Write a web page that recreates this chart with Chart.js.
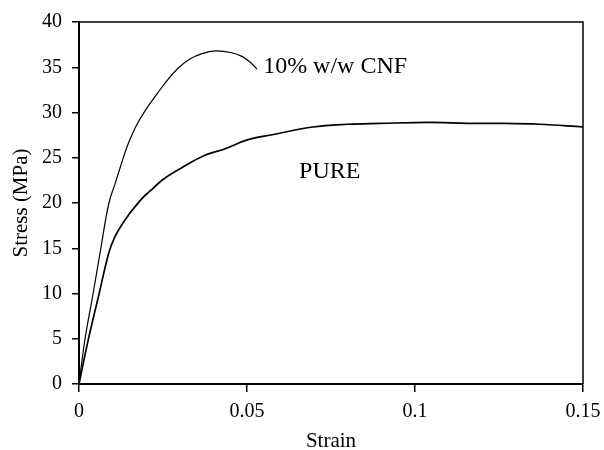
<!DOCTYPE html>
<html>
<head>
<meta charset="utf-8">
<script src="https://cdn.jsdelivr.net/npm/chart.js@4.4.0/dist/chart.umd.min.js"></script>
<style>
  html, body { margin: 0; padding: 0; background: #fff; }
  #wrap { width: 604px; height: 450px; }
</style>
</head>
<body>
<div id="wrap"><canvas id="stressChart" width="604" height="450"></canvas></div>
<script>
// Axis ticks
const xTicks = [0, 0.05, 0.1, 0.15];
const yTicks = [0, 5, 10, 15, 20, 25, 30, 35, 40];

// 10% w/w CNF composite
const cnfStrain = [0, 0.0018, 0.0042, 0.0065, 0.0089, 0.0108, 0.0125, 0.0145, 0.017, 0.0197,
                   0.0235, 0.0268, 0.0298, 0.033, 0.0366, 0.0405, 0.0455, 0.0485, 0.0508, 0.053];
const cnfStress = [0, 5, 10, 15, 20, 22.2, 24.2, 26.4, 28.5, 30.2,
                   32.2, 33.8, 35.0, 35.9, 36.5, 36.8, 36.6, 36.2, 35.6, 34.8];

// Pure polymer
const pureStrain = [0, 0.0027, 0.006, 0.0088, 0.0106, 0.0131, 0.015, 0.0167, 0.019, 0.0211, 0.025,
                    0.0306, 0.037, 0.0435, 0.0503, 0.0583, 0.0696, 0.0798, 0.0896, 0.1045,
                    0.1155, 0.125, 0.137, 0.15];
const pureStress = [0, 4.8, 10, 14.4, 16.2, 17.8, 18.8, 19.6, 20.6, 21.3, 22.6,
                    23.9, 25.2, 26.0, 27.0, 27.6, 28.4, 28.7, 28.8, 28.9,
                    28.8, 28.8, 28.7, 28.4];

// Curve labels, placed in data units
const curveLabels = ['10% w/w CNF', 'PURE'];
const labelStrain = [0.0548, 0.0655];
const labelStress = [34.4, 22.8];

const serif = '"Liberation Serif", "Times New Roman", serif';

function toPoints(xs, ys) {
    return xs.map((x, i) => ({ x: x, y: ys[i] }));
}

// closes the box on the top and right sides
const framePlugin = {
    id: 'frame',
    afterDatasetsDraw(chart) {
        const { ctx, chartArea: a } = chart;
        ctx.save();
        ctx.strokeStyle = '#000';
        ctx.lineWidth = 1.5;
        ctx.beginPath();
        ctx.moveTo(a.left, a.top);
        ctx.lineTo(a.right, a.top);
        ctx.lineTo(a.right, a.bottom);
        ctx.stroke();
        ctx.restore();
    }
};

const curveLabelPlugin = {
    id: 'curveLabels',
    afterDatasetsDraw(chart) {
        const { ctx, scales } = chart;
        ctx.save();
        ctx.font = '24px ' + serif;
        ctx.fillStyle = '#000';
        ctx.textAlign = 'left';
        ctx.textBaseline = 'alphabetic';
        curveLabels.forEach((txt, i) => {
            ctx.fillText(txt, scales.x.getPixelForValue(labelStrain[i]), scales.y.getPixelForValue(labelStress[i]));
        });
        ctx.restore();
    }
};

const chartConfig = {
    type: 'scatter',
    data: {
        datasets: [{
            label: curveLabels[0],
            data: toPoints(cnfStrain, cnfStress),
            showLine: true,
            borderColor: '#000',
            borderWidth: 1.2,
            pointRadius: 0,
            tension: 0.4
        }, {
            label: curveLabels[1],
            data: toPoints(pureStrain, pureStress),
            showLine: true,
            borderColor: '#000',
            borderWidth: 1.7,
            pointRadius: 0,
            tension: 0.4
        }]
    },
    options: {
        responsive: false,
        animation: false,
        devicePixelRatio: 1,
        layout: { padding: { left: 0, top: 20, right: 21, bottom: 0 } },
        plugins: {
            legend: { display: false },
            tooltip: { enabled: false }
        },
        scales: {
            x: {
                type: 'linear',
                min: 0,
                max: 0.15,
                afterBuildTicks: scale => { scale.ticks = xTicks.map(v => ({ value: v })); },
                afterFit: scale => {
                    scale.height = 66;
                    scale.paddingLeft = 0;
                    scale.paddingRight = 0;
                },
                border: { color: '#000', width: 2 },
                grid: { drawOnChartArea: false, drawTicks: true, tickLength: 8, color: '#000', lineWidth: 1.5 },
                ticks: {
                    color: '#000',
                    padding: 8,
                    maxRotation: 0,
                    font: { family: serif, size: 20 },
                    callback: v => String(v)
                },
                title: {
                    display: true,
                    text: 'Strain',
                    color: '#000',
                    padding: { top: 0, bottom: -2 },
                    font: { family: serif, size: 21, lineHeight: 1 }
                }
            },
            y: {
                min: 0,
                max: 40,
                afterBuildTicks: scale => { scale.ticks = yTicks.map(v => ({ value: v })); },
                afterFit: scale => { scale.width = 79; },
                border: { color: '#000', width: 2 },
                grid: { drawOnChartArea: false, drawTicks: true, tickLength: 7, color: '#000', lineWidth: 1.5 },
                ticks: {
                    color: '#000',
                    padding: 10,
                    font: { family: serif, size: 20 },
                    callback: v => String(v)
                },
                title: {
                    display: true,
                    text: 'Stress (MPa)',
                    color: '#000',
                    padding: { top: 11, bottom: 0 },
                    font: { family: serif, size: 21, lineHeight: 1 }
                }
            }
        }
    },
    plugins: [framePlugin, curveLabelPlugin]
};

const stressChart = new Chart(document.getElementById('stressChart'), chartConfig);
</script>
</body>
</html>
